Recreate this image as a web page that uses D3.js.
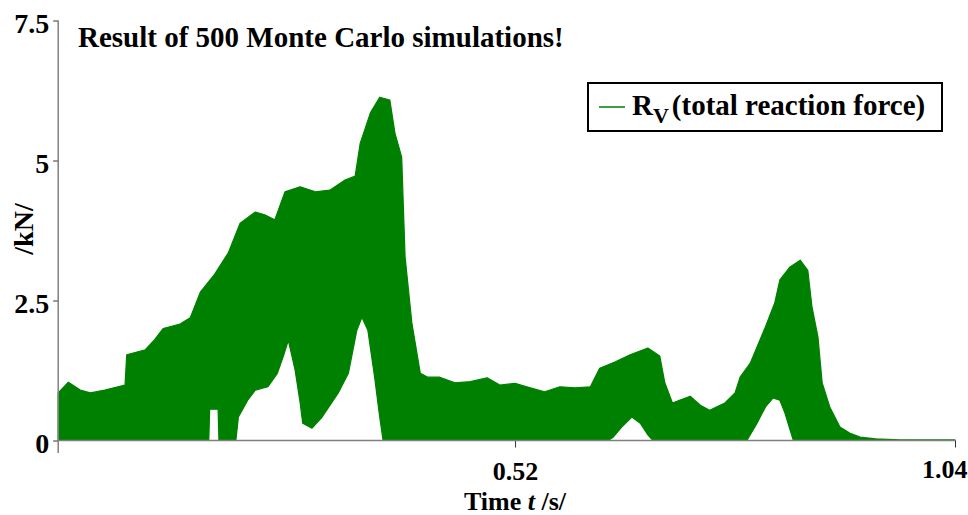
<!DOCTYPE html>
<html>
<head>
<meta charset="utf-8">
<script src="https://cdn.jsdelivr.net/npm/d3@7"></script>
<style>
  html, body { margin: 0; padding: 0; background: #fff; }
  svg { display: block; }
</style>
</head>
<body>
<svg id="chart" width="968" height="515"></svg>
<script>
// ---- data ----
const title = "Result of 500 Monte Carlo simulations!";
const yTicks = [0, 2.5, 5, 7.5];
const yTickLabels = ["0", "2.5", "5", "7.5"];
const xTicks = [0.52, 1.04];
const xTickLabels = ["0.52", "1.04"];

// upper envelope of the 500 simulated curves: time (s) and force (kN)
const upperT = [-0.020, -0.008, 0.006, 0.018, 0.035, 0.059, 0.061, 0.083, 0.094, 0.104, 0.124, 0.136, 0.148, 0.165,
  0.181, 0.195, 0.213, 0.224, 0.236, 0.248, 0.266, 0.284, 0.301, 0.319, 0.331, 0.337, 0.349, 0.360, 0.372,
  0.378, 0.386, 0.390, 0.398, 0.408, 0.417, 0.431, 0.449, 0.467, 0.487, 0.502, 0.520, 0.538, 0.555, 0.573,
  0.591, 0.609, 0.620, 0.638, 0.656, 0.677, 0.691, 0.697, 0.706, 0.715, 0.727, 0.739, 0.750, 0.768, 0.780,
  0.786, 0.798, 0.806, 0.816, 0.827, 0.833, 0.845, 0.857, 0.866, 0.871, 0.878, 0.883, 0.892, 0.904, 0.916,
  0.928, 0.946, 0.975, 1.040];
const upperV = [0.85, 1.04, 0.90, 0.85, 0.90, 0.99, 1.53, 1.62, 1.80, 2.00, 2.08, 2.19, 2.65, 2.97,
  3.35, 3.88, 4.08, 4.03, 3.94, 4.44, 4.53, 4.44, 4.47, 4.65, 4.72, 5.31, 5.85, 6.13, 6.08,
  5.49, 5.06, 3.28, 2.10, 1.20, 1.13, 1.13, 1.03, 1.05, 1.12, 0.99, 1.02, 0.94, 0.87, 0.96,
  0.94, 0.96, 1.29, 1.40, 1.53, 1.65, 1.51, 1.03, 0.67, 0.72, 0.79, 0.63, 0.54, 0.67, 0.85,
  1.13, 1.38, 1.67, 2.03, 2.46, 2.87, 3.10, 3.22, 3.04, 2.38, 1.85, 1.03, 0.60, 0.24, 0.13,
  0.06, 0.03, 0.01, 0.01];

// lower envelope of the 500 simulated curves
const lowerT = [-0.020, 0.158, 0.159, 0.169, 0.170, 0.190, 0.193, 0.204, 0.213, 0.228, 0.239, 0.246, 0.252,
  0.260, 0.266, 0.269, 0.280, 0.292, 0.311, 0.323, 0.333, 0.339, 0.346, 0.354, 0.360, 0.364,
  0.630, 0.636, 0.646, 0.658, 0.668, 0.677, 0.683, 0.794, 0.806, 0.816, 0.825, 0.833, 0.839, 0.845, 0.849, 1.040];
const lowerV = [0, 0, 0.56, 0.56, 0, 0, 0.42, 0.72, 0.90, 0.96, 1.20, 1.50, 1.79,
  1.26, 0.67, 0.31, 0.22, 0.42, 0.85, 1.20, 1.97, 2.20, 1.97, 1.13, 0.42, 0,
  0, 0.06, 0.24, 0.42, 0.31, 0.10, 0, 0, 0.31, 0.60, 0.76, 0.72, 0.49, 0.19, 0, 0];

const legendSymbol = "R";
const legendSub = "V";
const legendLabel = "(total reaction force)";

// ---- drawing ----
const FONT = "Liberation Serif";
const svg = d3.select("#chart");
const x = d3.scaleLinear().domain([-0.02, 1.04]).range([58.2, 955]);
const y = d3.scaleLinear().domain([0, 7.5]).range([440.5, 20.5]);
const green = "#008000";
const axisGrey = "#808080";

function styleText(sel, size) {
  return sel.attr("font-family", FONT).attr("font-weight", "bold").attr("font-size", size).attr("fill", "#000");
}

// band between lower and upper envelope
const upperPts = upperT.map((t, i) => [t, upperV[i]]);
const lowerPts = lowerT.map((t, i) => [t, lowerV[i]]).reverse();
const poly = upperPts.concat(lowerPts);
const line = d3.line().x(d => x(d[0])).y(d => y(d[1]));
svg.append("path")
  .attr("d", line(poly) + "Z")
  .attr("fill", green)
  .attr("stroke", green)
  .attr("stroke-width", 1.2)
  .attr("stroke-linejoin", "round");

// y axis
const yAxis = d3.axisLeft(y).tickValues(yTicks).tickFormat((d, i) => yTickLabels[i]).tickSize(5).tickPadding(4);
const gy = svg.append("g").attr("transform", `translate(${x(-0.02)},0)`).call(yAxis);
gy.select(".domain").remove();
gy.append("line").attr("x1", 0).attr("x2", 0).attr("y1", y(7.5)).attr("y2", 453)
  .attr("stroke", axisGrey).attr("stroke-width", 1.5);
gy.selectAll(".tick line").attr("stroke", "#333");
styleText(gy.selectAll(".tick text"), 28).attr("dy", "0.43em");

// x axis
const xAxis = d3.axisBottom(x).tickValues(xTicks).tickFormat((d, i) => xTickLabels[i]).tickSize(7).tickPadding(14.5);
const gx = svg.append("g").attr("transform", `translate(0,${y(0)})`).call(xAxis);
gx.select(".domain").remove();
gx.append("line").attr("x1", x(-0.02)).attr("x2", x(1.04)).attr("y1", 0).attr("y2", 0)
  .attr("stroke", axisGrey).attr("stroke-width", 1.5);
gx.selectAll(".tick line").attr("stroke", "#333");
styleText(gx.selectAll(".tick text"), 26);
gx.selectAll(".tick text").filter((d) => d === 1.04).attr("text-anchor", "end").attr("dx", 12).attr("y", 19);

// title
styleText(svg.append("text"), 29).attr("x", 78).attr("y", 47).text(title);

// axis titles
styleText(svg.append("text"), 28).attr("transform", "translate(33,229) rotate(-90)").attr("text-anchor", "middle")
  .text("/kN/");
const xt = styleText(svg.append("text"), 26).attr("x", 515).attr("y", 509.5).attr("text-anchor", "middle");
xt.append("tspan").text("Time ");
xt.append("tspan").attr("font-style", "italic").text("t");
xt.append("tspan").text(" /s/");

// legend
const lg = svg.append("g");
lg.append("rect").attr("x", 588).attr("y", 83).attr("width", 354).attr("height", 48)
  .attr("fill", "#fff").attr("stroke", "#000").attr("stroke-width", 2);
lg.append("line").attr("x1", 599).attr("x2", 625).attr("y1", 107).attr("y2", 107)
  .attr("stroke", green).attr("stroke-width", 1.5);
const lt = styleText(lg.append("text"), 29).attr("x", 632).attr("y", 115);
lt.append("tspan").text(legendSymbol);
lt.append("tspan").attr("dy", 8).attr("font-size", 22).text(legendSub);
lt.append("tspan").attr("dy", -8).attr("dx", 3).text(legendLabel);
</script>
</body>
</html>
